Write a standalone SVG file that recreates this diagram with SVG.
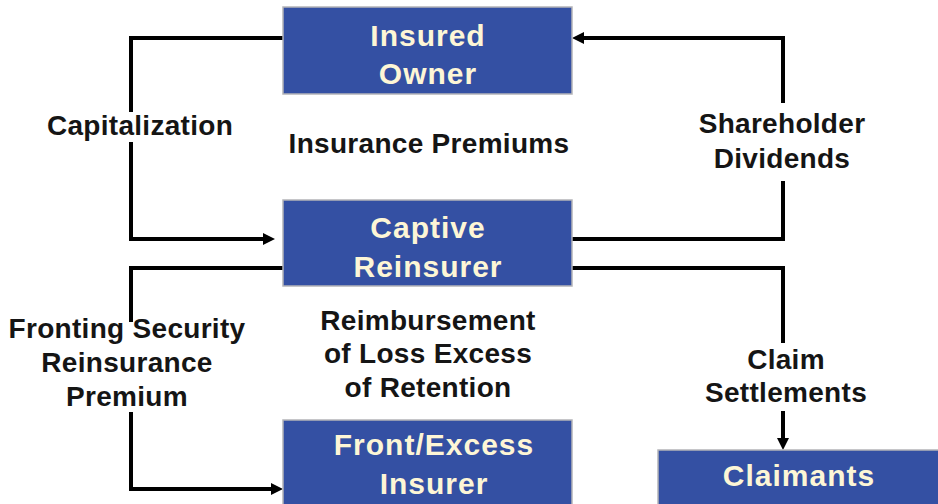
<svg xmlns="http://www.w3.org/2000/svg" width="938" height="504" viewBox="0 0 938 504">
  <style>
    .box { fill: #3450a3; stroke: #b4b4b8; stroke-width: 1.5; }
    .boxtext { font-family: "Liberation Sans", Arial, sans-serif; font-weight: bold; font-size: 30px; letter-spacing: 1px; fill: #fdf6d6; text-anchor: middle; }
    .label { font-family: "Liberation Sans", Arial, sans-serif; font-weight: bold; font-size: 28px; letter-spacing: 0.3px; fill: #151515; text-anchor: middle; }
    .wire { fill: none; stroke: #000; stroke-width: 4; stroke-linejoin: miter; }
  </style>
  <defs>
    <marker id="arrow" markerUnits="userSpaceOnUse" viewBox="0 0 12 12" markerWidth="12" markerHeight="12" refX="2" refY="6" orient="auto">
      <path d="M0,0 L12,6 L0,12 z" fill="#000"/>
    </marker>
  </defs>

  <rect width="938" height="504" fill="#fff"/>

  <!-- connectors -->
  <g id="connectors">
    <!-- Capitalization: owner -> captive -->
    <path class="wire" d="M283,38 H131 V112"/>
    <path class="wire" d="M131,142 V239 H265" marker-end="url(#arrow)"/>
    <!-- Shareholder dividends: captive -> owner -->
    <path class="wire" d="M572,239 H783 V181"/>
    <path class="wire" d="M783,103 V38 H582" marker-end="url(#arrow)"/>
    <!-- Fronting security reinsurance premium: captive -> front/excess -->
    <path class="wire" d="M283,268 H131 V322"/>
    <path class="wire" d="M131,412 V489 H273" marker-end="url(#arrow)"/>
    <!-- Claim settlements: captive -> claimants -->
    <path class="wire" d="M572,268 H783 V343"/>
    <path class="wire" d="M783,411 V440" marker-end="url(#arrow)"/>
  </g>

  <!-- connector labels -->
  <g id="labels">
    <text class="label" x="140" y="135">Capitalization</text>
    <text class="label" x="429" y="153">Insurance Premiums</text>
    <text class="label" x="782" y="133">Shareholder</text>
    <text class="label" x="782" y="168">Dividends</text>
    <text class="label" x="428" y="330">Reimbursement</text>
    <text class="label" x="428" y="363">of Loss Excess</text>
    <text class="label" x="428" y="397">of Retention</text>
    <text class="label" x="127" y="338">Fronting Security</text>
    <text class="label" x="127" y="372">Reinsurance</text>
    <text class="label" x="127" y="406">Premium</text>
    <text class="label" x="786" y="369">Claim</text>
    <text class="label" x="786" y="402">Settlements</text>
  </g>

  <!-- nodes -->
  <g id="insured-owner">
    <rect class="box" x="283" y="7" width="289" height="87"/>
    <text class="boxtext" x="428" y="46">Insured</text>
    <text class="boxtext" x="428" y="84">Owner</text>
  </g>
  <g id="captive-reinsurer">
    <rect class="box" x="283" y="200" width="289" height="86"/>
    <text class="boxtext" x="428" y="238">Captive</text>
    <text class="boxtext" x="428" y="277">Reinsurer</text>
  </g>
  <g id="front-excess-insurer">
    <rect class="box" x="283" y="420" width="289" height="100"/>
    <text class="boxtext" x="434" y="455">Front/Excess</text>
    <text class="boxtext" x="434" y="494">Insurer</text>
  </g>
  <g id="claimants">
    <rect class="box" x="658" y="450" width="290" height="70"/>
    <text class="boxtext" x="799" y="486">Claimants</text>
  </g>
</svg>
